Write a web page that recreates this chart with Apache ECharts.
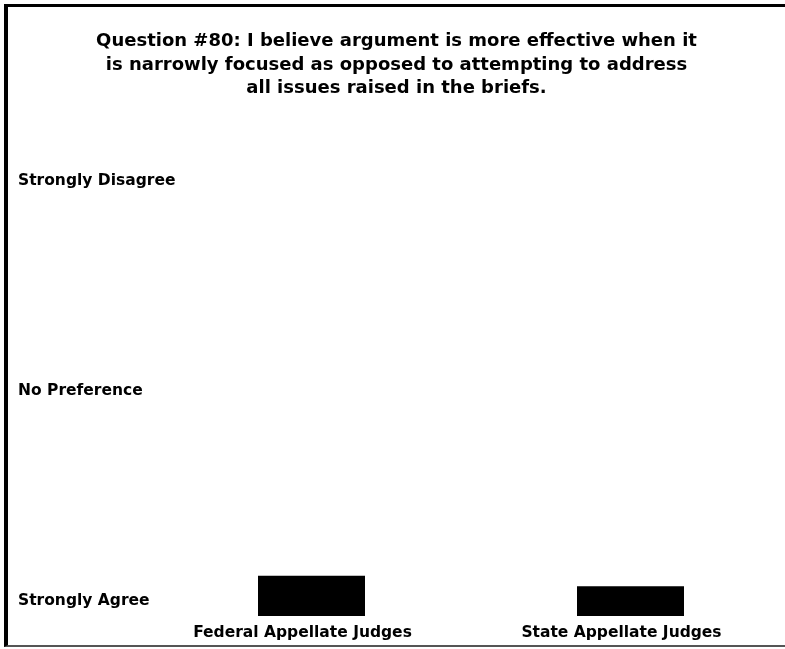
<!DOCTYPE html>
<html>
<head>
<meta charset="utf-8">
<script src="https://cdn.jsdelivr.net/npm/echarts@6/dist/echarts.min.js"></script>
<style>
html, body { margin: 0; padding: 0; background: #fff; overflow: hidden; width: 785px; height: 649px; }
#frame { position: absolute; left: 4px; top: 4px; width: 781px; height: 643px;
  border-top: 3px solid #000; border-left: 4px solid #000; border-bottom: 2px solid #555; box-sizing: border-box; }
#chart { position: absolute; left: 0; top: 0; width: 800px; height: 649px; }
</style>
</head>
<body>
<div id="frame"></div>
<div id="chart"></div>
<script>
const titleText = 'Question #80: I believe argument is more effective when it\nis narrowly focused as opposed to attempting to address\nall issues raised in the briefs.';
const categories = ['Federal Appellate Judges', 'State Appellate Judges'];
const meanValues = [1.24, 1.14];
const yTickValues = [1, 3, 5];
const yTickLabels = ['Strongly Agree', 'No Preference', 'Strongly Disagree'];

const font = 'DejaVu Sans';
const chart = echarts.init(document.getElementById('chart'), null, { renderer: 'canvas' });
chart.setOption({
  backgroundColor: 'transparent',
  animation: false,
  title: {
    text: titleText,
    left: 391.5, top: 25, textAlign: 'center',
    textStyle: { fontFamily: font, fontWeight: 'bold', fontSize: 18, lineHeight: 23.5, color: '#000' }
  },
  grid: { left: 152, width: 638, top: 170.5, bottom: 33 },
  xAxis: {
    type: 'category', data: categories,
    axisLine: { show: false }, axisTick: { show: false },
    axisLabel: { fontFamily: font, fontWeight: 'bold', fontSize: 15.5, color: '#000', margin: 9, padding: [0, 18, 0, 0], interval: 0 }
  },
  yAxis: {
    type: 'value', min: 0.857, max: 5.1,
    splitLine: { show: false }, axisLine: { show: false }, axisTick: { show: false },
    axisLabel: {
      customValues: yTickValues,
      formatter: function (v) { const i = yTickValues.indexOf(v); return i >= 0 ? yTickLabels[i] : ''; },
      align: 'left', margin: 134,
      fontFamily: font, fontWeight: 'bold', fontSize: 15.5, color: '#000'
    }
  },
  series: [{
    type: 'bar', data: meanValues, barWidth: 107,
    itemStyle: { color: '#000' }
  }]
});
</script>
</body>
</html>
